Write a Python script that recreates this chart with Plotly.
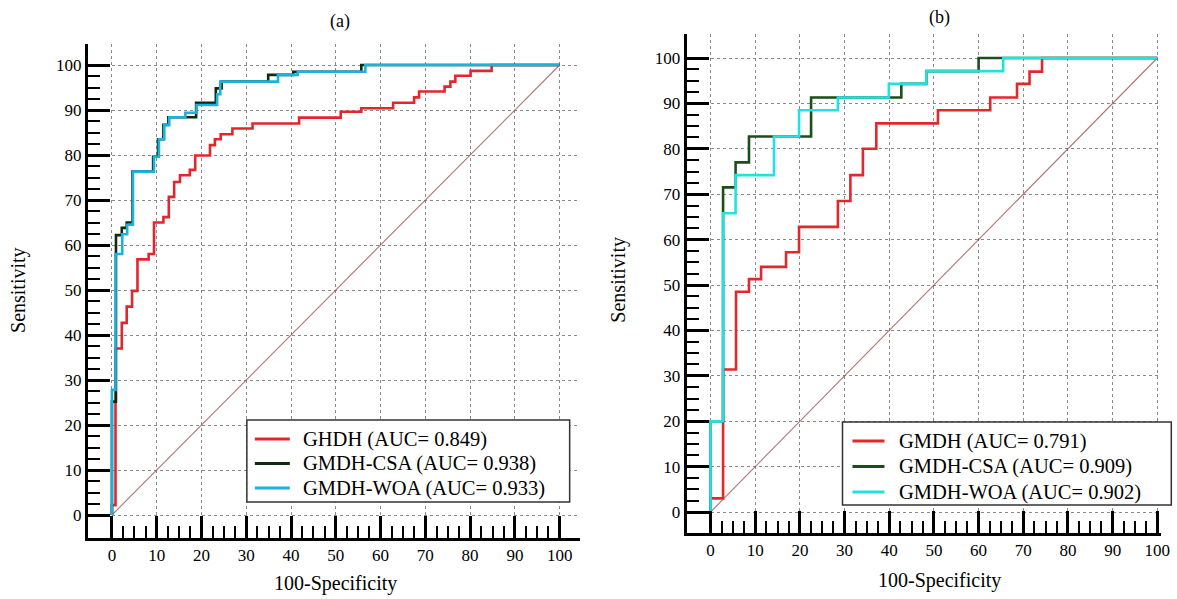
import plotly.graph_objects as go

# Horizontal compensation: the photographed page comes out ~0.993 narrower
# than CSS pixels, so reference x positions are divided by SX.
SX = 0.993
W, H = 1185, 599

# ---------------- data: panel (a) ----------------
a_ghdh_x = [0, 0, 0.8, 2.2, 3.3, 4.5, 5.7, 8.2, 9.4, 11.5, 12.7, 13.9, 15.2, 17.4, 18.6, 21.9, 23.0, 24.3,
            26.9, 31.4, 41.8, 51.1, 55.7, 62.8, 67.5, 68.6, 74.3, 75.6, 76.7, 80.1, 84.8, 100]
a_ghdh_y = [0, 2.2, 37.0, 42.7, 46.3, 49.8, 56.8, 58.0, 65.0, 66.2, 70.7, 74.0, 75.5, 76.7, 79.9, 82.2, 83.5, 84.6,
            85.9, 87.0, 88.3, 89.6, 90.4, 91.6, 92.8, 94.1, 95.2, 96.3, 97.6, 98.7, 100, 100]

a_csa_x = [0, 0, 0.9, 2.2, 3.3, 4.6, 9.2, 10.3, 11.5, 12.6, 18.8, 23.2, 24.5, 34.9, 40.5, 55.7, 100]
a_csa_y = [0, 25.2, 62.2, 63.8, 65.0, 76.3, 79.6, 83.5, 86.7, 88.4, 91.6, 94.8, 96.3, 97.8, 98.5, 100, 100]

a_woa_x = [0, 0, 0.8, 2.3, 3.4, 4.7, 9.4, 10.5, 11.7, 12.8, 16.4, 18.9, 23.5, 24.2, 37.1, 41.5, 56.6, 100]
a_woa_y = [0, 27.8, 58.0, 62.4, 64.5, 76.3, 79.6, 83.5, 86.7, 88.4, 89.4, 91.1, 93.5, 96.3, 97.8, 98.5, 100, 100]

a_names = ["GHDH (AUC= 0.849)", "GMDH-CSA (AUC= 0.938)", "GMDH-WOA (AUC= 0.933)"]

# ---------------- data: panel (b) ----------------
b_gmdh_x = [0, 0, 2.8, 5.7, 8.6, 11.3, 16.9, 19.8, 28.5, 31.3, 34.1, 37.1, 50.9, 62.6, 68.6, 71.4, 74.2, 100]
b_gmdh_y = [0, 3.0, 31.4, 48.5, 51.3, 54.0, 57.2, 62.8, 68.5, 74.2, 80.0, 85.6, 88.5, 91.3, 94.3, 97.0, 100, 100]

b_csa_x = [0, 0, 2.8, 5.6, 8.6, 22.5, 42.7, 48.3, 60.0, 100]
b_csa_y = [0, 20.0, 71.5, 77.0, 82.7, 91.3, 94.3, 97.1, 100, 100]

b_woa_x = [0, 0, 2.8, 5.6, 14.2, 19.8, 28.5, 39.9, 48.3, 65.5, 100]
b_woa_y = [0, 20.0, 65.8, 74.2, 82.7, 88.5, 91.3, 94.3, 97.1, 100, 100]

b_names = ["GMDH (AUC= 0.791)", "GMDH-CSA (AUC= 0.909)", "GMDH-WOA (AUC= 0.902)"]

diag = [0, 100]
tick_vals = [0, 10, 20, 30, 40, 50, 60, 70, 80, 90, 100]
tick_text = [str(v) for v in tick_vals]
minor_vals = [v / 2 for v in range(0, 201, 5) if (v / 2) % 10 != 0]

FONT = "Liberation Serif"

a_colors = ["#e3262b", "#0e2a10", "#1bb2dc"]
b_colors = ["#e2282c", "#1b4e1b", "#22e2e0"]

fig = go.Figure()

for xa, ya in (("x", "y"), ("x2", "y2")):
    fig.add_trace(go.Scatter(x=diag, y=diag, mode="lines", xaxis=xa, yaxis=ya,
                             line=dict(color="rgba(150,70,70,0.75)", width=1.1),
                             showlegend=False, hoverinfo="skip"))

for xs, ys, nm, col in zip((a_ghdh_x, a_csa_x, a_woa_x), (a_ghdh_y, a_csa_y, a_woa_y), a_names, a_colors):
    fig.add_trace(go.Scatter(x=xs, y=ys, mode="lines", name=nm, line=dict(color=col, width=2.6, shape="hv"),
                             xaxis="x", yaxis="y", showlegend=False))

for xs, ys, nm, col in zip((b_gmdh_x, b_csa_x, b_woa_x), (b_gmdh_y, b_csa_y, b_woa_y), b_names, b_colors):
    fig.add_trace(go.Scatter(x=xs, y=ys, mode="lines", name=nm, line=dict(color=col, width=2.6, shape="hv"),
                             xaxis="x2", yaxis="y2", showlegend=False))


def px_x(p):
    return p / SX / W


def px_y(p):
    return 1 - p / H


def axis(domain, rng, anchor):
    return dict(domain=domain, range=rng, anchor=anchor,
                tickmode="array", tickvals=tick_vals, ticktext=tick_text,
                ticks="inside", ticklen=22, tickwidth=3, tickcolor="black",
                showline=True, linewidth=3, linecolor="black",
                showgrid=True, gridcolor="#8a8a8a", griddash="dot", gridwidth=1,
                zeroline=False,
                minor=dict(tickmode="array", tickvals=minor_vals, ticks="inside",
                           ticklen=12, tickwidth=2, tickcolor="black", showgrid=False),
                tickfont=dict(family=FONT, size=17, color="black"))


fig.update_layout(
    xaxis=axis([px_x(88), px_x(580)], [-(112 - 88) / 4.48, (580 - 112) / 4.48], "y"),
    yaxis=axis([px_y(538), px_y(44)], [-(538 - 515) / 4.5, (515 - 44) / 4.5], "x"),
    xaxis2=axis([px_x(687), px_x(1162)], [-(711 - 687) / 4.47, (1162 - 711) / 4.47], "y2"),
    yaxis2=axis([px_y(533), px_y(34)], [-(533 - 512) / 4.54, (512 - 34) / 4.54], "x2"),
)

shapes = []
annotations = []

# legend boxes (white, framed)
for (x0, y0, x1, y1) in ((247, 420, 570, 502), (843, 422, 1172, 505)):
    shapes.append(dict(type="rect", xref="paper", yref="paper",
                       x0=px_x(x0), x1=px_x(x1), y0=px_y(y1), y1=px_y(y0),
                       line=dict(color="#333333", width=1.5), fillcolor="white", layer="above"))

# legend entries: (sample x0, sample x1, text x, row y's, names, colours)
legend_specs = [
    (255, 290, 301, (439, 463.5, 488), a_names, a_colors),
    (853, 885, 898, (441, 466.5, 492), b_names, b_colors),
]
for sx0, sx1, tx, rows, names, cols in legend_specs:
    for ry, nm, col in zip(rows, names, cols):
        shapes.append(dict(type="line", xref="paper", yref="paper",
                           x0=px_x(sx0), x1=px_x(sx1), y0=px_y(ry), y1=px_y(ry),
                           line=dict(color=col, width=3), layer="above"))
        annotations.append(dict(text=nm, xref="paper", yref="paper", x=px_x(tx), y=px_y(ry),
                                xanchor="left", yanchor="middle", showarrow=False,
                                font=dict(family=FONT, size=20.5, color="black")))


def ann(text, x, y, size=20, angle=0):
    annotations.append(dict(text=text, xref="paper", yref="paper", x=px_x(x), y=px_y(y),
                            xanchor="center", yanchor="middle", showarrow=False, textangle=angle,
                            font=dict(family=FONT, size=size, color="black")))


ann("(a)", 340, 22, size=18)
ann("(b)", 940, 17, size=18)
ann("Sensitivity", 18, 290, angle=-90)
ann("100-Specificity", 336, 583)
ann("Sensitivity", 618, 280, angle=-90)
ann("100-Specificity", 940, 580)

fig.update_layout(
    width=W, height=H, margin=dict(l=0, r=0, t=0, b=0),
    paper_bgcolor="white", plot_bgcolor="white",
    shapes=shapes, annotations=annotations, showlegend=False,
)

fig.write_html("out.html", config={"displayModeBar": False},
               post_script="document.body.style.margin='0';document.body.style.overflow='hidden';")
